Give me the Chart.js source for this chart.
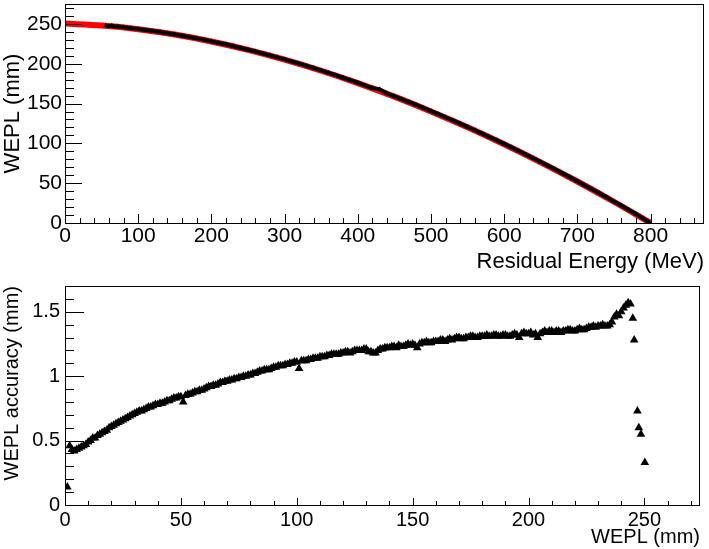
<!DOCTYPE html>
<html>
<head>
<meta charset="utf-8">
<title>WEPL calibration</title>
<script src="https://cdn.jsdelivr.net/npm/chart.js@4.4.1/dist/chart.umd.min.js"></script>
<style>
  html, body { margin: 0; padding: 0; background: #fff; }
  #wrap { position: relative; width: 709px; height: 549px; }
  canvas { position: absolute; left: 0; }
  #topChart { top: 0; }
  #bottomChart { top: 275px; }
</style>
</head>
<body>
<div id="wrap">
  <canvas id="topChart" width="709" height="275"></canvas>
  <canvas id="bottomChart" width="709" height="274"></canvas>
</div>
<script>
// ---------------------------------------------------------------------------
// data
// ---------------------------------------------------------------------------

// top panel : fit curve (red)
const fitEnergy = [0, 50, 100, 150, 200, 250, 300, 350, 400, 450, 500, 550, 600, 650, 700, 750, 800];
const fitWepl   = [250.4, 248.0, 243.4, 236.6, 227.9, 217.4, 205.1, 191.2, 175.7, 158.7, 140.1, 120.2, 98.9, 76.2, 52.1, 26.7, 0];

// top panel : measured points (black triangles)
const dataEnergy = [56, 60, 64, 68, 72, 80, 90, 100, 110, 120, 130, 140, 150, 160, 170, 180, 190, 200,
  210, 220, 230, 240, 250, 260, 270, 280, 290, 300, 310, 320, 330, 340, 350, 360, 370, 380, 390, 400,
  410, 420, 430, 440, 450, 460, 470, 480, 490, 500, 510, 520, 530, 540, 550, 560, 570, 580, 590, 600,
  610, 620, 630, 640, 650, 660, 670, 680, 690, 700, 710, 720, 730, 740, 750, 760, 770, 780, 790, 798];
const dataWepl = [247.8, 247.0, 247.6, 246.4, 246.6, 245.8, 244.6, 243.6, 242.3, 241.2, 239.8, 238.3, 236.8, 235.2, 233.5, 231.8, 230.0, 228.1,
  226.1, 224.1, 222.0, 219.8, 217.6, 215.3, 212.9, 210.5, 208.0, 205.4, 202.8, 200.1, 197.3, 194.5, 191.6, 188.6, 185.6, 182.4, 179.3, 176.1,
  172.8, 169.5, 167.8, 162.6, 159.1, 155.5, 151.9, 148.2, 144.4, 140.5, 136.7, 132.8, 128.8, 124.7, 120.6, 116.5, 112.3, 108.0, 103.7, 99.3,
  94.9, 90.4, 85.8, 81.2, 76.6, 71.9, 67.1, 62.3, 57.4, 52.5, 47.5, 42.5, 37.4, 32.3, 27.1, 21.9, 16.6, 11.2, 5.8, 1.0];

// bottom panel : WEPL accuracy vs WEPL (one point per mm)
const weplMm = [
  1, 2, 3, 4, 5, 6, 7, 8, 9, 10, 11, 12, 13, 14, 15, 16, 17, 18, 19, 20,
  21, 22, 23, 24, 25, 26, 27, 28, 29, 30, 31, 32, 33, 34, 35, 36, 37, 38, 39, 40,
  41, 42, 43, 44, 45, 46, 47, 48, 49, 50, 51, 52, 53, 54, 55, 56, 57, 58, 59, 60,
  61, 62, 63, 64, 65, 66, 67, 68, 69, 70, 71, 72, 73, 74, 75, 76, 77, 78, 79, 80,
  81, 82, 83, 84, 85, 86, 87, 88, 89, 90, 91, 92, 93, 94, 95, 96, 97, 98, 99, 100,
  101, 102, 103, 104, 105, 106, 107, 108, 109, 110, 111, 112, 113, 114, 115, 116, 117, 118, 119, 120,
  121, 122, 123, 124, 125, 126, 127, 128, 129, 130, 131, 132, 133, 134, 135, 136, 137, 138, 139, 140,
  141, 142, 143, 144, 145, 146, 147, 148, 149, 150, 151, 152, 153, 154, 155, 156, 157, 158, 159, 160,
  161, 162, 163, 164, 165, 166, 167, 168, 169, 170, 171, 172, 173, 174, 175, 176, 177, 178, 179, 180,
  181, 182, 183, 184, 185, 186, 187, 188, 189, 190, 191, 192, 193, 194, 195, 196, 197, 198, 199, 200,
  201, 202, 203, 204, 205, 206, 207, 208, 209, 210, 211, 212, 213, 214, 215, 216, 217, 218, 219, 220,
  221, 222, 223, 224, 225, 226, 227, 228, 229, 230, 231, 232, 233, 234, 235, 236, 237, 238, 239, 240,
  241, 242, 243, 244, 245, 245.6, 247, 247.6, 248.5, 250.2];
const accuracyMm = [
  0.14, 0.46, 0.43, 0.42, 0.43, 0.44, 0.45, 0.46, 0.47, 0.49, 0.50, 0.52, 0.52, 0.54, 0.55, 0.56, 0.57, 0.58, 0.60, 0.61,
  0.62, 0.63, 0.64, 0.65, 0.66, 0.67, 0.68, 0.69, 0.70, 0.71, 0.72, 0.73, 0.73, 0.74, 0.75, 0.76, 0.76, 0.77, 0.78, 0.78,
  0.79, 0.79, 0.80, 0.81, 0.81, 0.82, 0.83, 0.83, 0.84, 0.84, 0.80, 0.85, 0.86, 0.86, 0.87, 0.88, 0.88, 0.89, 0.89, 0.90,
  0.91, 0.92, 0.92, 0.93, 0.93, 0.94, 0.95, 0.95, 0.96, 0.96, 0.97, 0.97, 0.98, 0.98, 0.99, 0.99, 1.00, 1.00, 1.01, 1.01,
  1.02, 1.02, 1.03, 1.04, 1.04, 1.05, 1.05, 1.05, 1.06, 1.07, 1.07, 1.08, 1.08, 1.08, 1.09, 1.09, 1.10, 1.10, 1.11, 1.11,
  1.06, 1.12, 1.12, 1.12, 1.13, 1.13, 1.14, 1.14, 1.14, 1.15, 1.15, 1.15, 1.16, 1.16, 1.17, 1.17, 1.17, 1.17, 1.18, 1.18,
  1.19, 1.19, 1.18, 1.19, 1.20, 1.20, 1.20, 1.20, 1.21, 1.21, 1.19, 1.19, 1.18, 1.18, 1.20, 1.21, 1.21, 1.22, 1.22, 1.22,
  1.23, 1.23, 1.22, 1.24, 1.23, 1.23, 1.24, 1.25, 1.24, 1.25, 1.24, 1.22, 1.25, 1.26, 1.26, 1.27, 1.26, 1.26, 1.27, 1.27,
  1.27, 1.28, 1.28, 1.27, 1.28, 1.29, 1.28, 1.29, 1.30, 1.30, 1.29, 1.29, 1.30, 1.30, 1.31, 1.31, 1.30, 1.30, 1.31, 1.31,
  1.31, 1.32, 1.31, 1.31, 1.32, 1.32, 1.31, 1.31, 1.32, 1.32, 1.31, 1.31, 1.32, 1.33, 1.32, 1.30, 1.33, 1.34, 1.33, 1.33,
  1.34, 1.32, 1.33, 1.30, 1.33, 1.34, 1.35, 1.34, 1.35, 1.35, 1.34, 1.35, 1.35, 1.34, 1.35, 1.35, 1.36, 1.36, 1.35, 1.35,
  1.36, 1.37, 1.36, 1.36, 1.37, 1.38, 1.38, 1.39, 1.38, 1.39, 1.39, 1.40, 1.39, 1.39, 1.40, 1.42, 1.46, 1.48, 1.47, 1.50,
  1.53, 1.55, 1.57, 1.56, 1.45, 1.28, 0.73, 0.60, 0.55, 0.33];

// axis ranges and ticks
const topX = { min: 0, max: 873, major: 100, minor: 20 };
const topY = { min: 0, max: 275, major: 50, minor: 10 };
const botX = { min: 0, max: 274, major: 50, minor: 10 };
const botY = { min: 0, max: 1.7, major: 0.5, minor: 0.1 };

const FONT = "'Liberation Sans', Arial, Helvetica, sans-serif";

// ---------------------------------------------------------------------------
// ROOT-like frame: box around the plot and ticks pointing inside
// ---------------------------------------------------------------------------
const rootFrame = {
  id: 'rootFrame',
  afterDatasetsDraw(chart, args, opts) {
    const { ctx, chartArea: a, scales } = chart;
    ctx.save();
    ctx.strokeStyle = '#000';
    ctx.lineWidth = 1;
    ctx.strokeRect(Math.round(a.left) + 0.5, Math.round(a.top) + 0.5,
                   Math.round(a.right - a.left) - 1, Math.round(a.bottom - a.top));
    ctx.beginPath();
    // x ticks
    const nx = Math.round(opts.x.max / opts.x.minor);
    const perX = Math.round(opts.x.major / opts.x.minor);
    for (let i = 0; i <= nx; i++) {
      const v = i * opts.x.minor;
      if (v > opts.x.max) break;
      const px = Math.round(scales.x.getPixelForValue(v)) + 0.5;
      const len = (i % perX === 0) ? opts.xLen[0] : opts.xLen[1];
      ctx.moveTo(px, a.bottom);
      ctx.lineTo(px, a.bottom - len);
    }
    // y ticks
    const ny = Math.round(opts.y.max / opts.y.minor);
    const perY = Math.round(opts.y.major / opts.y.minor);
    for (let i = 0; i <= ny; i++) {
      const v = i * opts.y.minor;
      if (v > opts.y.max + 1e-9) break;
      const py = Math.round(scales.y.getPixelForValue(v)) + 0.5;
      const len = (i % perY === 0) ? opts.yLen[0] : opts.yLen[1];
      ctx.moveTo(a.left, py);
      ctx.lineTo(a.left + len, py);
    }
    ctx.stroke();
    ctx.restore();
  }
};

// fixed scale sizes so both plot areas sit where they do in the figure
function fixSize(w, h) {
  return function (scale) {
    if (w != null) scale.width = w;
    if (h != null) scale.height = h;
    scale.paddingTop = 0;
    scale.paddingBottom = 0;
    scale.paddingLeft = 0;
    scale.paddingRight = 0;
  };
}

function axis(range, size, fontSize, title, align, pad, fitFn) {
  return {
    type: 'linear',
    min: range.min,
    max: range.max,
    grid: { display: false, drawTicks: false },
    border: { display: false },
    ticks: {
      stepSize: range.major,
      includeBounds: false,
      padding: pad,
      color: '#000',
      font: { family: FONT, size: fontSize },
      callback: v => String(Math.round(v * 10) / 10)
    },
    title: {
      display: true,
      text: title,
      align: align,
      color: '#000',
      padding: { top: 0, bottom: 0 },
      font: { family: FONT, size: size }
    },
    afterFit: fitFn
  };
}

// ---------------------------------------------------------------------------
// 1. TOP PANEL : WEPL vs residual energy
// ---------------------------------------------------------------------------
new Chart(document.getElementById('topChart'), {
  type: 'scatter',
  data: {
    datasets: [
      {
        label: 'data',
        order: 1,
        data: dataEnergy.map((e, i) => ({ x: e, y: dataWepl[i] })),
        showLine: true,
        borderColor: '#000',
        borderWidth: 4,
        backgroundColor: '#000',
        pointStyle: 'triangle',
        pointRadius: 3,
        pointBorderWidth: 0
      },
      {
        label: 'fit',
        order: 2,
        data: fitEnergy.map((e, i) => ({ x: e, y: fitWepl[i] })),
        showLine: true,
        borderColor: '#ff0000',
        borderWidth: 6,
        cubicInterpolationMode: 'monotone',
        pointRadius: 0
      }
    ]
  },
  options: {
    responsive: false,
    animation: false,
    layout: { padding: { top: 3, right: 5, left: 0, bottom: 0 } },
    plugins: {
      legend: { display: false },
      tooltip: { enabled: false },
      rootFrame: { x: topX, y: topY, xLen: [9, 5], yLen: [17, 9] }
    },
    scales: {
      x: axis(topX, 22, 21, 'Residual Energy (MeV)', 'end', 1, fixSize(null, 52)),
      y: axis(topY, 22, 21, 'WEPL (mm)', 'center', 3, fixSize(65, null))
    }
  },
  plugins: [rootFrame]
});

// ---------------------------------------------------------------------------
// 2. BOTTOM PANEL : WEPL accuracy vs WEPL
// ---------------------------------------------------------------------------
new Chart(document.getElementById('bottomChart'), {
  type: 'scatter',
  data: {
    datasets: [
      {
        label: 'accuracy',
        data: weplMm.map((w, i) => ({ x: w, y: accuracyMm[i] })),
        backgroundColor: '#000',
        borderColor: '#000',
        pointStyle: 'triangle',
        pointRadius: 5,
        pointBorderWidth: 0
      }
    ]
  },
  options: {
    responsive: false,
    animation: false,
    layout: { padding: { top: 11, right: 9, left: 0, bottom: 0 } },
    plugins: {
      legend: { display: false },
      tooltip: { enabled: false },
      rootFrame: { x: botX, y: botY, xLen: [7, 4], yLen: [19, 9] }
    },
    scales: {
      x: axis(botX, 20, 20, 'WEPL (mm)', 'end', 3, fixSize(null, 44)),
      y: axis(botY, 20, 20, 'WEPL accuracy (mm)', 'end', 5, fixSize(65, null))
    }
  },
  plugins: [rootFrame]
});
</script>
</body>
</html>
